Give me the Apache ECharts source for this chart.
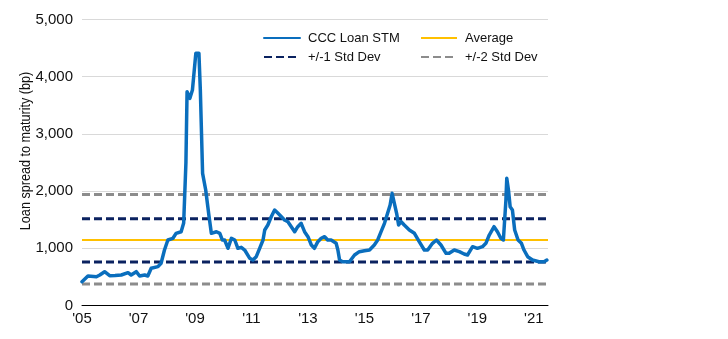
<!DOCTYPE html>
<html>
<head>
<meta charset="utf-8">
<script src="https://cdn.jsdelivr.net/npm/echarts@6/dist/echarts.min.js"></script>
<style>
html,body{margin:0;padding:0;background:#fff;}
#chart{width:728px;height:339px;}
</style>
</head>
<body>
<div id="chart"></div>
<script>
// ---- Data ----
const startYear = 2005;
const spreadYears = [2005.00,2005.21,2005.51,2005.63,2005.80,2005.98,2006.17,2006.39,2006.63,2006.74,2006.92,2007.04,2007.22,2007.33,2007.45,2007.69,2007.80,2007.92,2008.04,2008.22,2008.33,2008.51,2008.60,2008.68,2008.72,2008.82,2008.91,2009.03,2009.14,2009.19,2009.27,2009.38,2009.50,2009.58,2009.76,2009.88,2009.97,2010.05,2010.17,2010.29,2010.41,2010.52,2010.64,2010.76,2010.94,2011.05,2011.17,2011.29,2011.41,2011.47,2011.58,2011.70,2011.82,2011.94,2012.06,2012.17,2012.29,2012.41,2012.53,2012.64,2012.76,2012.88,2013.00,2013.12,2013.23,2013.35,2013.47,2013.59,2013.70,2013.82,2014.00,2014.06,2014.12,2014.23,2014.47,2014.65,2014.82,2015.00,2015.18,2015.35,2015.47,2015.59,2015.71,2015.82,2015.91,2015.98,2016.06,2016.14,2016.21,2016.30,2016.41,2016.59,2016.77,2016.94,2017.12,2017.24,2017.41,2017.55,2017.71,2017.89,2018.00,2018.18,2018.36,2018.53,2018.65,2018.83,2019.00,2019.18,2019.30,2019.42,2019.59,2019.71,2019.83,2019.92,2020.01,2020.04,2020.10,2020.16,2020.24,2020.32,2020.44,2020.56,2020.65,2020.78,2020.95,2021.18,2021.36,2021.46];
const spreadValues = [416,516,503,533,591,521,525,533,574,533,591,516,533,516,650,679,738,970,1145,1175,1262,1290,1442,2500,3738,3622,3767,4409,4409,3767,2311,2019,1552,1262,1290,1262,1145,1145,1000,1175,1145,1000,1017,970,825,795,853,1000,1145,1320,1407,1552,1670,1612,1552,1495,1465,1378,1290,1378,1437,1290,1203,1058,1000,1116,1175,1203,1145,1145,1087,970,795,766,766,883,941,958,970,1058,1145,1290,1437,1612,1757,1962,1787,1612,1407,1465,1407,1320,1262,1116,970,970,1087,1145,1058,912,912,970,941,900,883,1028,1000,1028,1087,1232,1378,1290,1175,1145,1844,2224,2019,1727,1670,1320,1145,1087,970,853,795,766,766,795];
const averageValue = 1145;
const sd1Values = [1515, 760];
const sd2Values = [1940, 375];
const xTickLabels = ["'05","'07","'09","'11","'13","'15","'17","'19","'21"];
const yTickLabels = ["0","1,000","2,000","3,000","4,000","5,000"];

const seriesNames = ['CCC Loan STM','Average','+/-1 Std Dev','+/-2 Std Dev'];
const colors = {stm:'#0A6EBD', avg:'#FFC000', sd1:'#0B2260', sd2:'#8C8C8C'};

const xMax = 16.5;
const spreadData = spreadYears.map((y,i)=>[y-startYear, spreadValues[i]]);
function hLine(v){ return [[0,v],[xMax,v]]; }

const numFont = "'Liberation Sans',sans-serif";

const series = [];
sd2Values.forEach(v=>series.push({
  name:'+/-2 Std Dev', type:'line', data:hLine(v), symbol:'none', silent:true,
  lineStyle:{color:colors.sd2, width:3, type:[8,4]}, itemStyle:{color:colors.sd2}, z:2
}));
sd1Values.forEach(v=>series.push({
  name:'+/-1 Std Dev', type:'line', data:hLine(v), symbol:'none', silent:true,
  lineStyle:{color:colors.sd1, width:3, type:[8,4]}, itemStyle:{color:colors.sd1}, z:2
}));
series.push({
  name:'Average', type:'line', data:hLine(averageValue), symbol:'none', silent:true,
  lineStyle:{color:colors.avg, width:2}, itemStyle:{color:colors.avg}, z:3
});
series.push({
  name:'CCC Loan STM', type:'line', data:spreadData, symbol:'none',
  lineStyle:{color:colors.stm, width:3.5, join:'round', cap:'round'}, itemStyle:{color:colors.stm}, z:4
});

const legendCommon = {
  orient:'vertical', itemWidth:36, itemHeight:12, itemGap:5, padding:0,
  itemStyle:{opacity:0},
  textStyle:{fontFamily:numFont, fontSize:13, color:'#111', padding:[0,0,0,3], lineHeight:14},
  selectedMode:false
};

const chart = echarts.init(document.getElementById('chart'), null, {renderer:'canvas'});
chart.setOption({
  animation:false,
  backgroundColor:'#fff',
  grid:{left:82, right:180, top:19.5, bottom:33.5, containLabel:false},
  legend:[
    Object.assign({left:263, top:31, data:[seriesNames[0], seriesNames[2]]}, legendCommon),
    Object.assign({left:420, top:31, data:[seriesNames[1], seriesNames[3]]}, legendCommon)
  ],
  xAxis:{
    type:'value', min:0, max:xMax, interval:2,
    axisLine:{show:true, lineStyle:{color:'#000', width:1}},
    axisTick:{show:false}, splitLine:{show:false},
    axisLabel:{
      margin:6, fontFamily:numFont, fontSize:15, color:'#111',
      formatter:v=> (v%2===0 ? (xTickLabels[v/2]||'') : '')
    }
  },
  yAxis:{
    type:'value', min:0, max:5000, interval:1000,
    axisLine:{show:false}, axisTick:{show:false},
    splitLine:{lineStyle:{color:'#d9d9d9', width:1}},
    axisLabel:{margin:9, fontFamily:numFont, fontSize:15, color:'#111',
      formatter:v=> yTickLabels[Math.round(v/1000)] }
  },
  graphic:[{
    type:'text', x:26, y:151, rotation:Math.PI/2, scaleX:0.84,
    style:{text:'Loan spread to maturity (bp)', fontFamily:numFont, fontSize:15, fill:'#111',
      textAlign:'center', textVerticalAlign:'middle'}
  }],
  series:series
});
</script>
</body>
</html>
